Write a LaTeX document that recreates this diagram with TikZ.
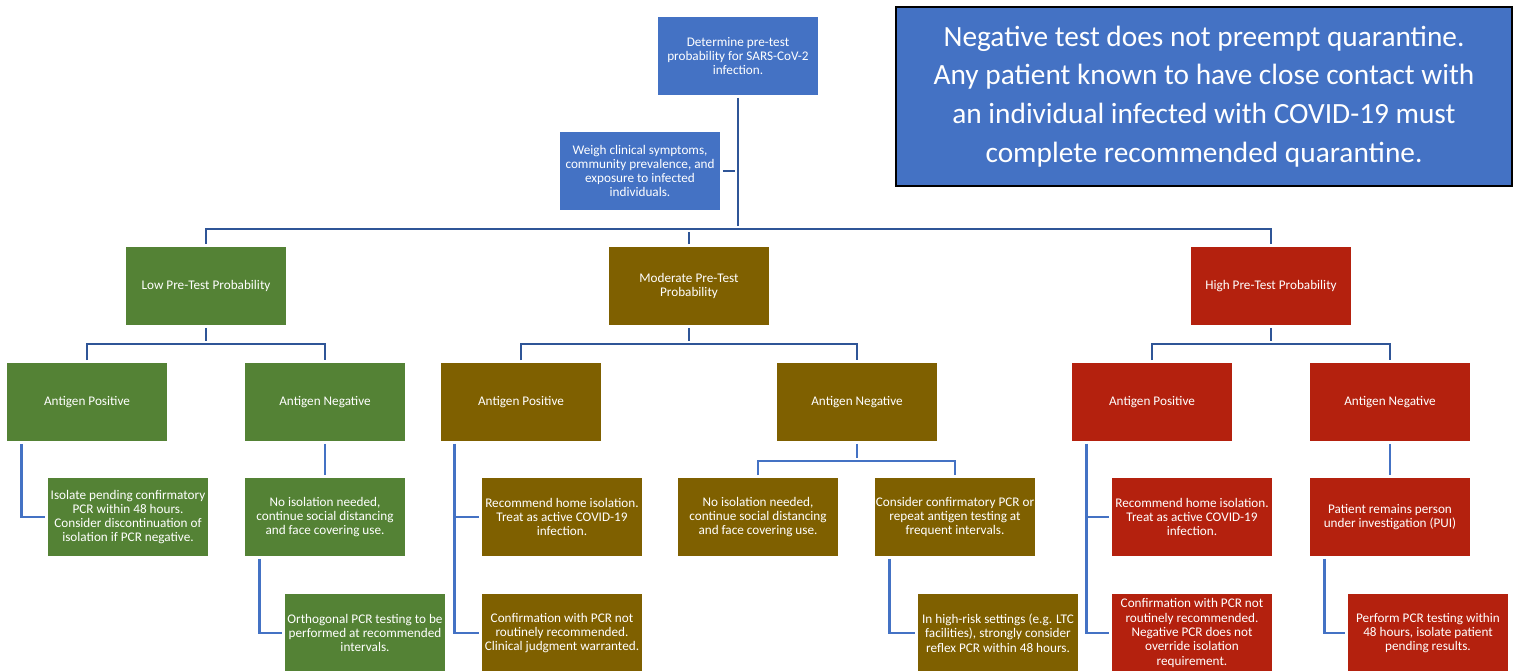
\documentclass[tikz,border=0pt]{standalone}
\usepackage{fontspec}
\setmainfont{Carlito}
\usepackage{tikz}
\usepackage{color}

\definecolor{infoblue}{HTML}{4472C4}
\definecolor{lowgreen}{HTML}{548235}
\definecolor{modolive}{HTML}{7F6000}
\definecolor{highred}{HTML}{B4210E}
\definecolor{trunkblue}{HTML}{2F5597}
\definecolor{branchblue}{HTML}{4472C4}

\begin{document}
\begin{tikzpicture}[x=0.75pt,y=-0.75pt,
	box/.style={rectangle, text=white, minimum width=120pt, minimum height=58.5pt, inner xsep=0pt, inner ysep=1pt, align=center, font=\fontsize{9.9}{10.7}\selectfont},
	trunk/.style={draw=trunkblue, line width=1.9pt, shorten <=2pt, shorten >=2pt},
	branch/.style={draw=branchblue, line width=1.9pt, shorten <=2pt, shorten >=2pt}]
	\useasboundingbox (0,0) rectangle (1518,671);

	\node[box, fill=infoblue] (root) at (738,56) {Determine pre-test\\probability for SARS-CoV-2\\infection.};
	\node[box, fill=infoblue] (weigh) at (640,171) {Weigh clinical symptoms,\\community prevalence, and\\exposure to infected\\individuals.};
	\node[fill=infoblue, draw=black, line width=1.4pt, minimum width=462pt, minimum height=134pt, text=white, align=center, font=\fontsize{22}{29}\selectfont] (note) at (1204,96.5)
		{Negative test does not preempt quarantine.\\Any patient known to have close contact with\\an individual infected with COVID-19 must\\complete recommended quarantine.};

	\node[box, fill=lowgreen] (low) at (206,286) {Low Pre-Test Probability};
	\node[box, fill=modolive] (mod) at (689,286) {Moderate Pre-Test\\Probability};
	\node[box, fill=highred] (high) at (1271,286) {High Pre-Test Probability};

	\node[box, fill=lowgreen] (lowpos) at (87,402) {Antigen Positive};
	\node[box, fill=lowgreen] (lowneg) at (325,402) {Antigen Negative};
	\node[box, fill=modolive] (modpos) at (521,402) {Antigen Positive};
	\node[box, fill=modolive] (modneg) at (857,402) {Antigen Negative};
	\node[box, fill=highred] (highpos) at (1152,402) {Antigen Positive};
	\node[box, fill=highred] (highneg) at (1390,402) {Antigen Negative};

	\node[box, fill=lowgreen] (lowiso) at (128,517) {Isolate pending confirmatory\\PCR within 48 hours.\\Consider discontinuation of\\isolation if PCR negative.};
	\node[box, fill=lowgreen] (lownone) at (325,517) {No isolation needed,\\continue social distancing\\and face covering use.};
	\node[box, fill=lowgreen] (lowortho) at (365,633) {Orthogonal PCR testing to be\\performed at recommended\\intervals.};
	\node[box, fill=modolive] (modhome) at (562,517) {Recommend home isolation.\\Treat as active COVID-19\\infection.};
	\node[box, fill=modolive] (modconf) at (562,633) {Confirmation with PCR not\\routinely recommended.\\Clinical judgment warranted.};
	\node[box, fill=modolive] (modnone) at (758,517) {No isolation needed,\\continue social distancing\\and face covering use.};
	\node[box, fill=modolive] (modpcr) at (955,517) {Consider confirmatory PCR or\\repeat antigen testing at\\frequent intervals.};
	\node[box, fill=modolive] (modrisk) at (998,633) {In high-risk settings (e.g. LTC\\facilities), strongly consider\\reflex PCR within 48 hours.};
	\node[box, fill=highred] (highhome) at (1192,517) {Recommend home isolation.\\Treat as active COVID-19\\infection.};
	\node[box, fill=highred] (highconf) at (1192,633) {Confirmation with PCR not\\routinely recommended.\\Negative PCR does not\\override isolation\\requirement.};
	\node[box, fill=highred] (highpui) at (1390,517) {Patient remains person\\under investigation (PUI)};
	\node[box, fill=highred] (highpcr) at (1428,633) {Perform PCR testing within\\48 hours, isolate patient\\pending results.};

	\coordinate (topbus) at (738,229);
	\coordinate (lowbus) at (206,344);
	\coordinate (modbus) at (689,344);
	\coordinate (highbus) at (1271,344);
	\coordinate (modnegbus) at (857,461);

	\draw[trunk] (root.south) -- (topbus);
	\draw[trunk] (weigh.east) -- (weigh.east -| topbus);
	\draw[trunk] (low.north) |- (topbus) -| (high.north);
	\draw[trunk] (mod.north) -- (mod.north |- topbus);

	\draw[trunk] (low.south) -- (lowbus);
	\draw[trunk] (lowpos.north) |- (lowbus) -| (lowneg.north);
	\draw[trunk] (mod.south) -- (modbus);
	\draw[trunk] (modpos.north) |- (modbus) -| (modneg.north);
	\draw[trunk] (high.south) -- (highbus);
	\draw[trunk] (highpos.north) |- (highbus) -| (highneg.north);

	\draw[branch] (lowpos.south west) ++(15,0) |- (lowiso.west);
	\draw[branch] (lowneg.south) -- (lowneg.south |- lownone.north);
	\draw[branch] (lownone.south west) ++(15,0) |- (lowortho.west);
	\draw[branch] (modpos.south west) ++(14,0) |- (modhome.west);
	\draw[branch] (modpos.south west) ++(14,0) |- (modconf.west);
	\draw[branch] (modneg.south) -- (modnegbus);
	\draw[branch] (modnone.north) |- (modnegbus) -| (modpcr.north);
	\draw[branch] (modpcr.south west) ++(15,0) |- (modrisk.west);
	\draw[branch] (highpos.south west) ++(15,0) |- (highhome.west);
	\draw[branch] (highpos.south west) ++(15,0) |- (highconf.west);
	\draw[branch] (highneg.south) -- (highneg.south |- highpui.north);
	\draw[branch] (highpui.south west) ++(15,0) |- (highpcr.west);
\end{tikzpicture}
\end{document}
